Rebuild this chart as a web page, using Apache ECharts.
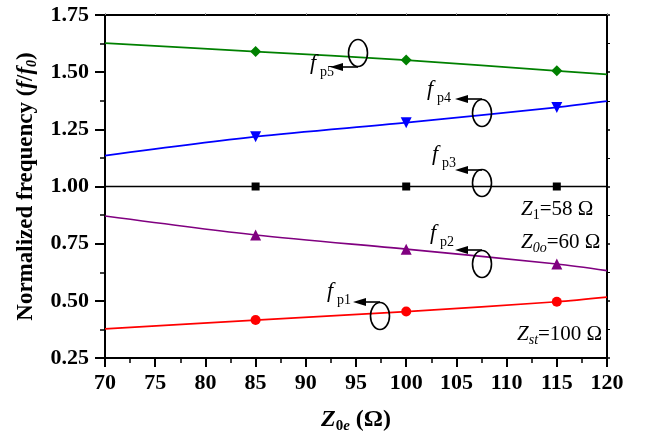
<!DOCTYPE html>
<html>
<head>
<meta charset="utf-8">
<script src="https://cdn.jsdelivr.net/npm/echarts@6/dist/echarts.min.js"></script>
<style>
  html, body { margin: 0; padding: 0; background: #fff; }
  #chart { width: 649px; height: 439px; }
</style>
</head>
<body>
<div id="chart"></div>
<script>
// Z0e values (ohm) where the curves were read
const zValues = [70, 85, 100, 115, 120];
// markers are only drawn at the middle three points
const markerAt = [false, true, true, true, false];

// normalized frequencies f/f0
const fp1 = [0.377, 0.416, 0.453, 0.496, 0.516];
const fp2 = [0.871, 0.788, 0.726, 0.661, 0.632];
const fp3 = [1.0, 1.0, 1.0, 1.0, 1.0];
const fp4 = [1.135, 1.218, 1.279, 1.346, 1.373];
const fp5 = [1.627, 1.590, 1.553, 1.506, 1.490];

const yTicks = [0.25, 0.50, 0.75, 1.00, 1.25, 1.50, 1.75];

const serif = '"Liberation Serif", "DejaVu Serif", serif';

function makeSeries(name, values, color, symbol, size, rotate) {
  return {
    name: name,
    type: 'line',
    smooth: 0.3,
    symbol: symbol,
    symbolSize: size,
    symbolRotate: rotate || 0,
    showAllSymbol: true,
    lineStyle: { color: color, width: 1.7 },
    itemStyle: { color: color },
    data: zValues.map((z, i) => ({
      value: [z, values[i]],
      symbol: markerAt[i] ? symbol : 'none'
    })),
    z: 3
  };
}

// annotation: ellipse on the curve, arrow pointing left, f_pN label
function annot(cx, cy, arrowY, tipX, lx, ly, sub) {
  return [
    { type: 'ellipse', shape: { cx: cx, cy: cy, rx: 9.5, ry: 13.5 },
      style: { fill: 'none', stroke: '#000', lineWidth: 1.6 }, z: 10 },
    { type: 'line', shape: { x1: cx, y1: arrowY, x2: tipX + 10, y2: arrowY },
      style: { stroke: '#000', lineWidth: 1.6 }, z: 10 },
    { type: 'polygon', shape: { points: [[tipX, arrowY], [tipX + 13, arrowY - 4], [tipX + 13, arrowY + 4]] },
      style: { fill: '#000' }, z: 10 },
    { type: 'text', x: lx, y: ly,
      style: { text: 'f', font: 'italic 22px ' + serif, fill: '#000', verticalAlign: 'top' }, z: 10 },
    { type: 'text', x: lx + 10, y: ly + 13,
      style: { text: sub, font: '14px ' + serif, fill: '#000', verticalAlign: 'top' }, z: 10 }
  ];
}

function paramText(x, y, sub, rest) {
  return {
    type: 'text', x: x, y: y, z: 10,
    style: {
      text: '{z|Z}{s|' + sub + '}{t|' + rest + '}',
      verticalAlign: 'middle',
      rich: {
        z: { fontFamily: serif, fontSize: 21, fontStyle: 'italic', color: '#000' },
        s: { fontFamily: serif, fontSize: 14, fontStyle: sub === '1' ? 'normal' : 'italic', color: '#000', padding: [13, 0, 0, 0] },
        t: { fontFamily: serif, fontSize: 21, color: '#000' }
      }
    }
  };
}

const chart = echarts.init(document.getElementById('chart'));

const option = {
  animation: false,
  backgroundColor: '#fff',
  grid: { left: 105, right: 42, top: 15, bottom: 81, containLabel: false },
  xAxis: [{
    type: 'value',
    min: 70, max: 120, interval: 5,
    name: '{z|Z}{s|0}{e|e}{t| (Ω)}',
    nameLocation: 'middle',
    nameGap: 47,
    nameTextStyle: {
      rich: {
        z: { fontFamily: serif, fontSize: 24, fontWeight: 'bold', fontStyle: 'italic', color: '#000' },
        s: { fontFamily: serif, fontSize: 15, fontWeight: 'bold', color: '#000', padding: [14, 0, 0, 0] },
        e: { fontFamily: serif, fontSize: 15, fontWeight: 'bold', fontStyle: 'italic', color: '#000', padding: [14, 0, 0, 0] },
        t: { fontFamily: serif, fontSize: 24, fontWeight: 'bold', color: '#000' }
      }
    },
    axisLine: { show: true, onZero: false, lineStyle: { color: '#000', width: 2 } },
    axisTick: { show: true, inside: false, length: 9, lineStyle: { color: '#000', width: 2 } },
    minorTick: { show: true, splitNumber: 2, length: 5, lineStyle: { color: '#000', width: 1.5 } },
    axisLabel: { color: '#000', fontFamily: serif, fontSize: 22, fontWeight: 'bold', margin: 14 },
    splitLine: { show: false }
  }, {
    type: 'value', position: 'top',
    min: 70, max: 120, interval: 5,
    axisLine: { show: true, onZero: false, lineStyle: { color: '#000', width: 2 } },
    axisTick: { show: true, inside: false, length: 2, lineStyle: { color: '#999', width: 1 } },
    axisLabel: { show: false },
    splitLine: { show: false }
  }],
  yAxis: [{
    type: 'value',
    min: 0.25, max: 1.75, interval: 0.25,
    name: '{t|Normalized frequency (}{i|f}{t|/}{i|f}{s|0}{t|)}',
    nameLocation: 'middle',
    nameGap: 65,
    nameTextStyle: {
      rich: {
        t: { fontFamily: serif, fontSize: 23, fontWeight: 'bold', color: '#000' },
        i: { fontFamily: serif, fontSize: 23, fontWeight: 'bold', fontStyle: 'italic', color: '#000' },
        s: { fontFamily: serif, fontSize: 14, fontWeight: 'bold', fontStyle: 'italic', color: '#000', padding: [13, 0, 0, 0] }
      }
    },
    axisLine: { show: true, onZero: false, lineStyle: { color: '#000', width: 2 } },
    axisTick: { show: true, inside: false, length: 10, lineStyle: { color: '#000', width: 2 } },
    minorTick: { show: true, splitNumber: 2, length: 5, lineStyle: { color: '#000', width: 1.5 } },
    axisLabel: {
      color: '#000', fontFamily: serif, fontSize: 22, fontWeight: 'bold', margin: 16,
      formatter: v => {
        const t = yTicks.find(k => Math.abs(k - v) < 1e-6);
        return t !== undefined ? t.toFixed(2) : '';
      }
    },
    splitLine: { show: false }
  }, {
    type: 'value', position: 'right',
    min: 0.25, max: 1.75, interval: 0.25,
    axisLine: { show: true, onZero: false, lineStyle: { color: '#000', width: 2 } },
    axisTick: { show: true, inside: false, length: 3, lineStyle: { color: '#000', width: 1.5 } },
    minorTick: { show: true, splitNumber: 2, length: 3, lineStyle: { color: '#000', width: 1 } },
    axisLabel: { show: false },
    splitLine: { show: false }
  }],
  series: [
    makeSeries('fp5', fp5, '#008000', 'diamond', 11),
    makeSeries('fp4', fp4, '#0000ff', 'triangle', 11, 180),
    makeSeries('fp3', fp3, '#000000', 'rect', 8),
    makeSeries('fp2', fp2, '#800080', 'triangle', 11),
    makeSeries('fp1', fp1, '#ff0000', 'circle', 10)
  ],
  graphic: [].concat(
    annot(358, 53, 67, 330, 310, 52, 'p5'),
    annot(482, 113, 99, 455, 427, 78, 'p4'),
    annot(482, 183, 170, 455, 432, 143, 'p3'),
    annot(482, 264, 250, 455, 430, 222, 'p2'),
    annot(380, 316, 302, 353, 327, 280, 'p1'),
    [
      paramText(521, 209, '1', '=58 Ω'),
      paramText(521, 242, '0o', '=60 Ω'),
      paramText(517, 334, 'st', '=100 Ω')
    ]
  )
};

chart.setOption(option);
</script>
</body>
</html>
